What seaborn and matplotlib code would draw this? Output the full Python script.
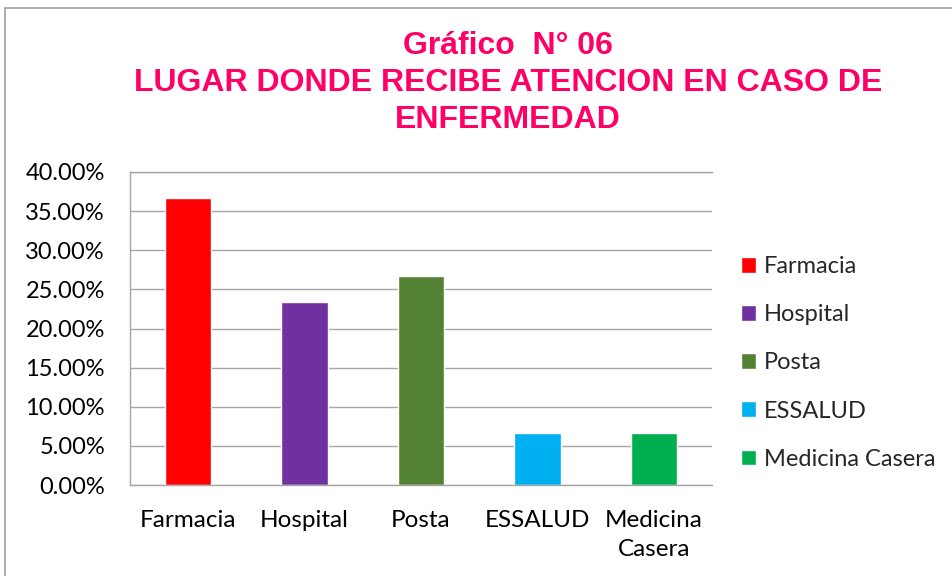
import matplotlib
matplotlib.use('Agg')
import matplotlib.pyplot as plt
import seaborn as sns
import pandas as pd
from matplotlib.patches import Rectangle
from matplotlib.ticker import FuncFormatter

# Datos del grafico
categorias = ["Farmacia", "Hospital", "Posta", "ESSALUD", "Medicina Casera"]
etiquetas_x = ["Farmacia", "Hospital", "Posta", "ESSALUD", "Medicina\nCasera"]
porcentajes = [36.67, 23.33, 26.67, 6.67, 6.67]
colores = ["#FF0000", "#7030A0", "#548235", "#00B0F0", "#00B050"]

df = pd.DataFrame({"lugar": categorias, "pct": porcentajes})

sns.set_theme(style="white")
plt.rcParams['font.family'] = ['Lato', 'DejaVu Sans']

fig = plt.figure(figsize=(9.53, 5.76), dpi=100)
ax = fig.add_axes([130 / 953, 1 - 485 / 576, 582 / 953, 313 / 576])

sns.barplot(data=df, x="lugar", y="pct", hue="lugar", palette=colores,
            width=0.4, ax=ax, legend=True, saturation=1)

ax.set_ylim(0, 40)
ax.set_xlim(-0.5, 4.5)
ax.set_yticks([0, 5, 10, 15, 20, 25, 30, 35, 40])
ax.yaxis.set_major_formatter(FuncFormatter(lambda v, p: f"{v:.2f}%"))
ax.set_xticks(range(5))
ax.set_xticklabels(etiquetas_x, linespacing=1.45)
ax.tick_params(axis='y', labelsize=17, colors='black', length=0, pad=18)
ax.tick_params(axis='x', labelsize=17.5, colors='black', length=0, pad=18)
ax.set_xlabel("")
ax.set_ylabel("")
ax.grid(axis='y', color='#A6A6A6', linewidth=1)
ax.set_axisbelow(True)
for s in ax.spines.values():
    s.set_color('#A6A6A6')
    s.set_linewidth(1)
ax.spines['right'].set_visible(False)

handles, labels = ax.get_legend_handles_labels()
ax.legend(handles, labels, loc='center left', bbox_to_anchor=(1.05, 0.39),
          frameon=False, fontsize=17, handlelength=0.65, handleheight=0.65,
          handletextpad=0.3, labelspacing=1.15, borderaxespad=0, borderpad=0)

titulo = "Gráfico  N° 06\nLUGAR DONDE RECIBE ATENCION EN CASO DE\nENFERMEDAD"
fig.text(508 / 953, 1 - 83 / 576, titulo, ha='center', va='center',
         color='#FF0066', fontsize=23, fontweight='bold',
         family=['Liberation Sans', 'DejaVu Sans'], linespacing=1.29)

# marco exterior del grafico
fig.patches.append(Rectangle((5 / 953, -0.1), 1.1, 1.1 - 8 / 576,
                             transform=fig.transFigure, fill=False,
                             edgecolor='#A0A0A0', linewidth=1.2))

fig.savefig("out.png", dpi=100)
